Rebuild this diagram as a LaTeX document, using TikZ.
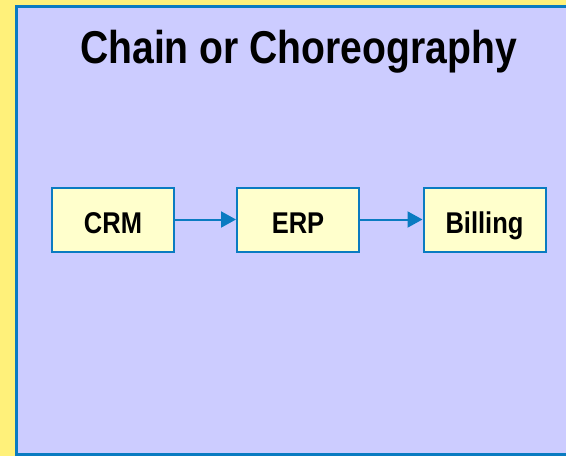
\documentclass[tikz,border=0pt]{standalone}
\usepackage{fontspec}
\setmainfont{Liberation Sans}
\newfontfamily\narrowbf[FakeStretch=0.85]{Liberation Sans Bold}
\usetikzlibrary{arrows.meta}
\definecolor{stripyellow}{HTML}{FFF17A}
\definecolor{panelfill}{HTML}{CCCCFF}
\definecolor{edgeblue}{HTML}{0A7BC1}
\definecolor{boxfill}{HTML}{FFFFCC}
\tikzset{
  sysbox/.style={draw=edgeblue, line width=2pt, fill=boxfill, minimum width=122pt, minimum height=64pt, inner sep=0pt, text height=27pt, text depth=0pt, font=\narrowbf\fontsize{30}{30}\selectfont, text=black},
  flow/.style={draw=edgeblue, line width=2pt, -{Triangle[length=15pt,width=16pt]}}
}
\begin{document}
\begin{tikzpicture}[x=1pt,y=-1pt]
\useasboundingbox (0,0) rectangle (566,456);
\fill[stripyellow] (0,0) rectangle (566,456);
\begin{scope}
\clip (0,0) rectangle (566,456);
\draw[edgeblue, line width=2.5pt, fill=panelfill] (16.5,6.5) rectangle (580,454.5);
\end{scope}
\node[font=\narrowbf\fontsize{46}{46}\selectfont, anchor=base] (title) at (298.5,63.5) {Chain or Choreography};
\node[sysbox] (crm) at (113,219.5) {CRM};
\node[sysbox] (erp) at (298,219.5) {ERP};
\node[sysbox] (bill) at (484.5,219.5) {Billing};
\draw[flow] (crm) -- (erp);
\draw[flow] (erp) -- (bill);
\end{tikzpicture}
\end{document}
